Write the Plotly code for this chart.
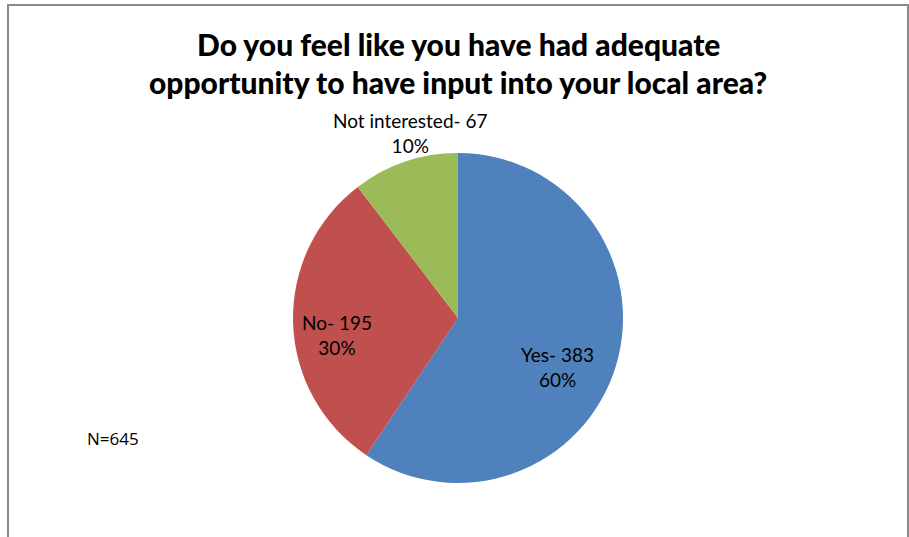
import plotly.graph_objects as go

# Survey responses
categories = ["Yes", "No", "Not interested"]
counts = [383, 195, 67]
pct_labels = ["60%", "30%", "10%"]
colors = ["#4F81BD", "#C0504D", "#9BBB59"]
sample_size = 645
title_lines = [
    "Do you feel like you have had adequate",
    "opportunity to have input into your local area?",
]

W, H = 909, 537
cx, cy, r = 458, 318, 165  # pie centre and radius in pixels


def px(x):
    return x / W


def py(y):
    return 1 - y / H


fig = go.Figure(
    go.Pie(
        labels=categories,
        values=counts,
        sort=False,
        direction="clockwise",
        rotation=0,
        marker=dict(colors=colors, line=dict(width=0)),
        textinfo="none",
        hoverinfo="label+value+percent",
        showlegend=False,
        domain=dict(x=[px(cx - r), px(cx + r)], y=[py(cy + r), py(cy - r)]),
    )
)

label_font = dict(family="Lato, 'Gill Sans', sans-serif", size=19, color="#000000")
label_pos = [(557, 367), (337, 335), (410, 133)]
for cat, n, pct, (lx, ly) in zip(categories, counts, pct_labels, label_pos):
    fig.add_annotation(
        x=px(lx), y=py(ly), xref="paper", yref="paper",
        text=f"{cat}- {n}<br>{pct}", showarrow=False,
        font=label_font, align="center", xanchor="center", yanchor="middle",
    )

fig.add_annotation(
    x=px(113), y=py(438), xref="paper", yref="paper",
    text=f"N={sample_size}", showarrow=False,
    font=dict(family="'Open Sans', sans-serif", size=17, color="#000000"),
    xanchor="center", yanchor="middle",
)

# Two-line title, one annotation per line
title_font = dict(family="Lato, 'Gill Sans', sans-serif", size=30, weight=900, color="#000000")
for line, ty in zip(title_lines, [44, 82]):
    fig.add_annotation(
        x=px(458), y=py(ty), xref="paper", yref="paper",
        text=line, showarrow=False, xanchor="center", yanchor="middle",
        font=title_font, borderpad=0,
    )

# Chart frame
fig.add_shape(
    type="rect", xref="paper", yref="paper",
    x0=px(8), x1=px(908), y0=-0.05, y1=py(5),
    line=dict(color="#8a8a8a", width=2), fillcolor="rgba(0,0,0,0)",
)

fig.update_layout(
    width=W, height=H,
    margin=dict(l=0, r=0, t=0, b=0),
    paper_bgcolor="#ffffff", plot_bgcolor="#ffffff",
)

fig.write_html("out.html")
